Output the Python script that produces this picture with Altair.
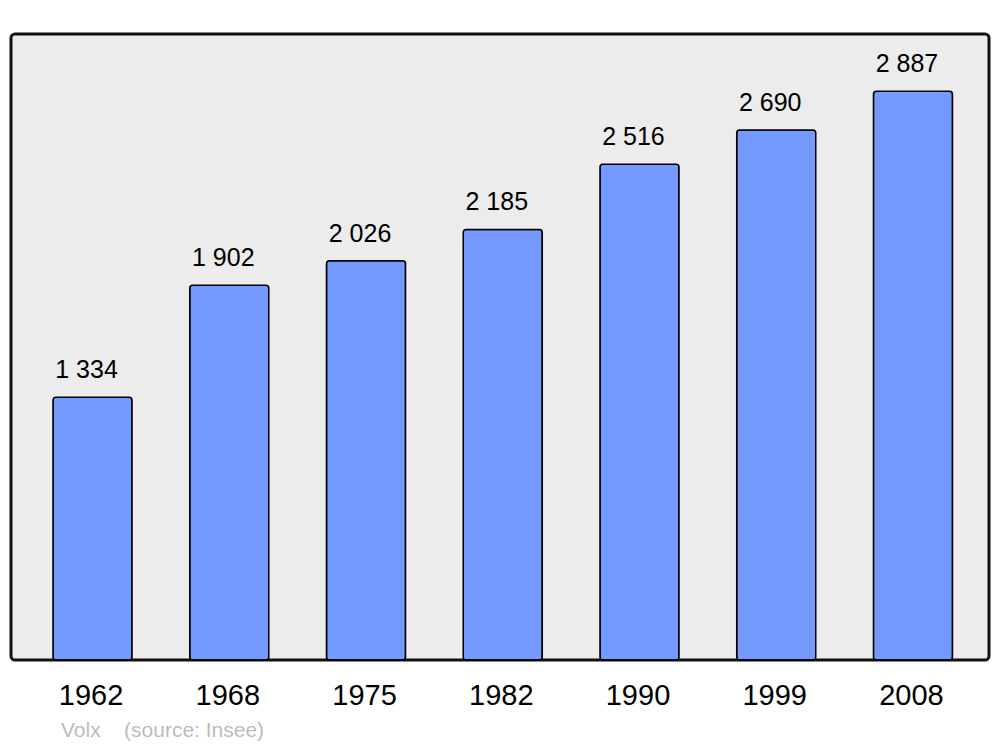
import altair as alt
import pandas as pd

years = ["1962", "1968", "1975", "1982", "1990", "1999", "2008"]
population = [1334, 1902, 2026, 2185, 2516, 2690, 2887]

df = pd.DataFrame({
    "year": years,
    "pop": population,
    "label": [f"{v:,}".replace(",", " ") for v in population],
})

x = alt.X("year:N", sort=years,
          scale=alt.Scale(range=[42, 941.5], paddingInner=0.422, paddingOuter=0),
          axis=alt.Axis(title=None, domain=False, ticks=False, labelAngle=0,
                        labelFontSize=29, labelFont="Liberation Sans",
                        labelColor="black", labelPadding=21, labelOffset=-1.5))
y = alt.Y("pop:Q", scale=alt.Scale(domain=[0, 3177], nice=False, zero=True),
          axis=None)

bars = alt.Chart(df).mark_bar(
    color="#7499ff", stroke="black", strokeWidth=1.5, cornerRadius=3
).encode(x=x, y=y)

labels = alt.Chart(df).mark_text(
    font="Liberation Sans", fontSize=25, color="black",
    baseline="alphabetic", dy=-19, dx=-6
).encode(x=x, y=y, text="label:N")

chart = alt.layer(bars, labels).properties(
    width=978, height=626,
    autosize=alt.AutoSizeParams(type="none"),
    padding={"left": 3, "top": 26, "right": 3, "bottom": 85},
    title=alt.TitleParams(
        text="Volx\u00a0\u00a0\u00a0\u00a0(source: Insee)", orient="bottom",
        anchor="start", dx=50, offset=10, font="Liberation Sans", fontSize=21,
        fontWeight="normal", color="#bbbbbb",
    ),
).configure(
    background="white",
    view=alt.ViewConfig(fill="#ececec", stroke="#111111", strokeWidth=3,
                        cornerRadius=4),
)

chart.save("out.html", embed_options={"renderer": "svg", "actions": False})
